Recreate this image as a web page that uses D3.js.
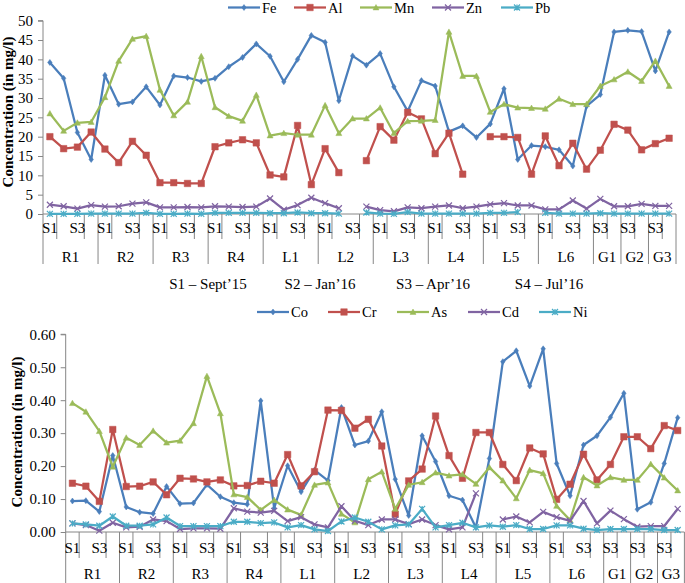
<!DOCTYPE html>
<html><head><meta charset="utf-8">
<script src="https://cdn.jsdelivr.net/npm/d3@7/dist/d3.min.js"></script>
<style>
html,body{margin:0;padding:0;background:#fff;}
svg{display:block;}
text{font-family:"Liberation Serif","Times New Roman",serif;fill:#000;}
</style></head>
<body>
<svg id="chart" width="685" height="583"></svg>
<script>
// ---------- DATA ----------
const groups = ["R1","R2","R3","R4","L1","L2","L3","L4","L5","L6","G1","G2","G3"];
const seasonsFull = ["S1","S2","S3","S4"];
const seasonsGW = ["S3","S4"];
const seasonNotes = ["S1 \u2013 Sept\u201915","S2 \u2013 Jan\u201916","S3 \u2013 Apr\u201916","S4 \u2013 Jul\u201916"];

const topTicks = [0,5,10,15,20,25,30,35,40,45,50];
const botTicks = [0,0.1,0.2,0.3,0.4,0.5,0.6];

const Fe = [39.2,35.1,21.1,14.1, 35.9,28.4,29.0,32.9, 28.2,35.7,35.3,34.3, 35.1,38.1,40.5,44.0,
  40.8,34.2,40.0,46.2, 44.4,29.3,40.9,38.5, 41.5,32.9,26.6,34.5, 33.1,21.3,22.8,19.8,
  23.3,32.4,14.1,17.7, 17.4,16.6,12.4,27.9, 30.9,47.1, 47.5,47.2, 37.0,47.1];
const Al = [20.0,16.9,17.3,21.2, 16.8,13.3,18.8,15.2, 8.1,8.1,7.9,7.9, 17.4,18.4,19.2,18.4,
  10.1,9.6,22.9,7.6, 16.9,10.7,null,13.8, 22.6,19.1,26.3,24.6, 15.6,20.9,10.3,null,
  20.0,20.0,19.8,10.3, 20.2,12.5,18.3,11.6, 16.5,23.2, 21.7,16.6, 18.2,19.6];
const Mn = [26.0,21.5,23.6,23.8, 30.2,39.6,45.3,46.0, 32.1,25.5,29.0,40.8, 27.6,25.3,24.1,30.8,
  20.3,20.9,20.5,20.5, 28.1,20.9,24.7,24.7, 27.5,20.9,24.0,24.1, 24.3,47.1,35.7,35.7,
  26.4,28.4,27.5,27.4, 27.2,29.8,28.4,28.4, 33.1,34.8, 36.8,34.4, 39.6,33.1];
const Zn = [2.4,2.0,1.4,2.3, 1.9,2.0,2.7,3.0, 1.7,1.7,1.8,1.7, 2.0,1.9,1.8,1.9,
  4.0,1.1,2.3,4.2, 2.8,1.5,null,1.9, 1.0,0.7,1.7,1.5, 1.9,2.2,1.5,1.9,
  2.5,2.8,2.2,2.2, 1.2,1.2,3.5,1.4, 3.9,2.0, 2.0,2.6, 2.1,2.1];
const Pb = [0.05,0.05,0.05,0.1, 0.1,0.1,0.1,0.3, 0.05,0.05,0.1,0.05, 0.3,0.3,0.3,0.3,
  0.2,0.2,0.4,0.2, 0.2,0.1,null,0.4, 0.1,0.05,0.5,0.1, 0.1,0.1,0.1,0.1,
  0.3,0.3,0.5,null, 0.3,0.1,0.1,0.1, 0.2,0.1, 0.1,0.1, 0.1,0.1];

const Co = [0.094,0.095,0.062,0.232, 0.076,0.060,0.056,0.138, 0.086,0.088,0.144,0.107, 0.089,0.084,0.398,0.072,
  0.201,0.122,0.188,0.156, 0.378,0.264,0.276,0.365, 0.160,0.050,0.292,0.214, 0.110,0.097,0.014,0.223,
  0.517,0.550,0.443,0.556, 0.208,0.110,0.264,0.292, 0.348,0.421, 0.069,0.090, 0.208,0.347];
const Cr = [0.148,0.139,0.093,0.311, 0.138,0.139,0.152,0.113, 0.163,0.161,0.152,0.158, 0.140,0.141,0.154,0.148,
  0.235,0.140,0.183,0.370, 0.369,0.315,0.342,0.261, 0.054,0.155,0.191,0.352, 0.232,0.163,0.302,0.302,
  0.205,0.156,0.255,0.237, 0.099,0.145,0.236,0.158, 0.205,0.289, 0.289,0.253, 0.323,0.308];
const As = [0.391,0.365,0.306,0.198, 0.286,0.264,0.307,0.271, 0.277,0.330,0.473,0.360, 0.114,0.106,0.067,0.097,
  0.068,0.052,0.143,0.150, 0.055,0.029,0.160,0.183, 0.070,0.143,0.151,0.180, 0.171,0.175,0.146,0.196,
  0.156,0.102,0.188,0.178, 0.079,0.036,0.166,0.141, 0.166,0.158, 0.158,0.206, 0.165,0.126];
const Cd = [0.026,0.021,0.004,0.028, 0.014,0.016,0.038,0.033, 0.009,0.011,0.011,0.010, 0.072,0.062,0.059,0.064,
  0.033,0.045,0.023,0.014, 0.078,0.034,0.021,0.038, 0.038,0.024,0.038,0.021, 0.008,0.014,0.117,null,
  0.038,0.047,0.029,0.061, 0.045,0.034,0.094,0.026, 0.065,0.039, 0.016,0.018, 0.018,0.070];
const Ni = [0.026,0.023,0.019,0.047, 0.019,0.019,0.023,0.044, 0.018,0.018,0.018,0.018, 0.031,0.031,0.027,0.029,
  0.014,0.021,0.008,0.003, 0.032,0.044,0.031,0.008, 0.020,0.023,0.070,0.014, 0.021,0.028,0.014,0.020,
  0.016,0.021,0.009,0.009, 0.020,0.020,0.010,0.006, 0.009,0.009, 0.009,0.009, 0.006,0.006];

// ---------- CATEGORIES ----------
const cats = [];
groups.forEach(g => {
  const ss = g.startsWith("G") ? seasonsGW : seasonsFull;
  ss.forEach((s, k) => cats.push({id: g + "-" + s, group: g, season: s, showLabel: k % 2 === 0}));
});

const C = {blue:"#4a7ebb", red:"#c0504d", green:"#9bbb59", purple:"#8064a2", cyan:"#4bacc6", axis:"#868686"};

const svg = d3.select("#chart");

function markerPath(type, s) {
  const h = s / 2;
  switch (type) {
    case "diamond": return `M0,${-h}L${h*0.75},0L0,${h}L${-h*0.75},0Z`;
    case "square": return `M${-h},${-h}H${h}V${h}H${-h}Z`;
    case "triangle": return `M0,${-h}L${h},${h*0.8}L${-h},${h*0.8}Z`;
    case "x": return `M${-h},${-h}L${h},${h}M${-h},${h}L${h},${-h}`;
    case "star": return `M${-h},${-h}L${h},${h}M${-h},${h}L${h},${-h}M0,${-h}V${h}`;
  }
}

function panel(o) {
  const g = svg.append("g");
  const x = d3.scaleBand().domain(cats.map(c => c.id)).range([o.x0, o.x1]).padding(0);
  const bw = x.bandwidth();
  const cx = id => x(id) + bw / 2;
  const y = d3.scaleLinear().domain([0, o.max]).range([o.yBot, o.yTop]);

  // y axis
  const ya = d3.axisLeft(y).tickValues(o.ticks).tickFormat(o.fmt).tickSize(5).tickPadding(5);
  const yg = g.append("g").attr("transform", `translate(${o.x0},0)`).call(ya);
  yg.select(".domain").attr("stroke", C.axis).attr("d", `M-5,${o.yTop}H0V${o.yBot}`);
  yg.selectAll(".tick line").attr("stroke", C.axis);
  yg.selectAll(".tick text").attr("font-size", 15).attr("font-family", "Liberation Serif").attr("fill", "#000");

  // category axis
  g.append("line").attr("x1", o.x0).attr("x2", o.x1).attr("y1", o.yBot).attr("y2", o.yBot)
    .attr("stroke", C.axis).attr("stroke-width", 1);
  const bounds = [];
  groups.forEach(gr => { const first = cats.find(c => c.group === gr); bounds.push(x(first.id)); });
  bounds.push(o.x1);
  bounds.forEach(b => g.append("line").attr("x1", b).attr("x2", b).attr("y1", o.yBot).attr("y2", o.sepEnd)
    .attr("stroke", C.axis).attr("stroke-width", 1));
  cats.forEach(c => {
    if (c.showLabel) {
      const bx = x(c.id) + bw;
      g.append("line").attr("x1", bx).attr("x2", bx).attr("y1", o.yBot).attr("y2", o.tickEnd)
        .attr("stroke", C.axis).attr("stroke-width", 1);
      g.append("text").attr("x", cx(c.id)).attr("y", o.lvl1Y).attr("text-anchor", "middle")
        .attr("dominant-baseline", "central").attr("font-size", 15).text(c.season);
    }
  });
  groups.forEach((gr, i) => {
    const m = (bounds[i] + bounds[i + 1]) / 2;
    g.append("text").attr("x", m).attr("y", o.lvl2Y).attr("text-anchor", "middle")
      .attr("dominant-baseline", "central").attr("font-size", 15).text(gr);
  });

  // y title
  g.append("text").attr("transform", `translate(${o.titleX},${o.titleY}) rotate(-90)`)
    .attr("text-anchor", "middle").attr("dominant-baseline", "central")
    .attr("font-size", 15).attr("font-weight", "bold").text("Concentration (in mg/l)");

  // series
  o.series.forEach(s => {
    const line = d3.line().defined(d => d.v != null).x(d => cx(d.id)).y(d => y(d.v));
    const data = cats.map((c, i) => ({id: c.id, v: s.values[i]}));
    g.append("path").datum(data).attr("d", line).attr("fill", "none")
      .attr("stroke", s.color).attr("stroke-width", 2.25).attr("stroke-linejoin", "round");
    const filled = s.marker === "diamond" || s.marker === "square" || s.marker === "triangle";
    g.selectAll(null).data(data.filter(d => d.v != null)).enter().append("path")
      .attr("transform", d => `translate(${cx(d.id)},${y(d.v)})`)
      .attr("d", markerPath(s.marker, s.marker === "square" ? 6.5 : 6))
      .attr("fill", filled ? s.color : "none").attr("stroke", s.color)
      .attr("stroke-width", filled ? 0.5 : 1.2);
  });

  // legend
  o.series.forEach((s, i) => {
    const lx = o.legendX[i];
    const lg = g.append("g");
    lg.append("line").attr("x1", lx).attr("x2", lx + 32).attr("y1", o.legendY).attr("y2", o.legendY)
      .attr("stroke", s.color).attr("stroke-width", 2.25);
    const filled = s.marker === "diamond" || s.marker === "square" || s.marker === "triangle";
    lg.append("path").attr("transform", `translate(${lx + 16},${o.legendY})`)
      .attr("d", markerPath(s.marker, s.marker === "square" ? 6.5 : 6))
      .attr("fill", filled ? s.color : "none").attr("stroke", s.color).attr("stroke-width", filled ? 0.5 : 1.2);
    lg.append("text").attr("x", lx + 34).attr("y", o.legendY).attr("dominant-baseline", "central")
      .attr("font-size", 14.5).text(s.name);
  });
}

panel({
  x0: 43, x1: 676, yTop: 20.7, yBot: 214, max: 50, ticks: topTicks, fmt: d3.format("d"),
  sepEnd: 264, tickEnd: 239, lvl1Y: 228, lvl2Y: 256.5, titleX: 8, titleY: 112,
  legendY: 7.5, legendX: [228, 294, 360, 432, 501],
  series: [
    {name: "Fe", values: Fe, color: C.blue, marker: "diamond"},
    {name: "Al", values: Al, color: C.red, marker: "square"},
    {name: "Mn", values: Mn, color: C.green, marker: "triangle"},
    {name: "Zn", values: Zn, color: C.purple, marker: "x"},
    {name: "Pb", values: Pb, color: C.cyan, marker: "star"}
  ]
});

panel({
  x0: 65.7, x1: 684.4, yTop: 334.3, yBot: 532, max: 0.6, ticks: botTicks, fmt: d3.format(".2f"),
  sepEnd: 590, tickEnd: 558, lvl1Y: 548, lvl2Y: 574, titleX: 17, titleY: 432,
  legendY: 312, legendX: [257, 328, 397, 468, 539],
  series: [
    {name: "Co", values: Co, color: C.blue, marker: "diamond"},
    {name: "Cr", values: Cr, color: C.red, marker: "square"},
    {name: "As", values: As, color: C.green, marker: "triangle"},
    {name: "Cd", values: Cd, color: C.purple, marker: "x"},
    {name: "Ni", values: Ni, color: C.cyan, marker: "star"}
  ]
});

// season notes
const noteX = [208, 320, 433, 549];
seasonNotes.forEach((t, i) => {
  svg.append("text").attr("x", noteX[i]).attr("y", 284).attr("text-anchor", "middle")
    .attr("dominant-baseline", "central").attr("font-size", 15).text(t);
});
</script>
</body></html>
